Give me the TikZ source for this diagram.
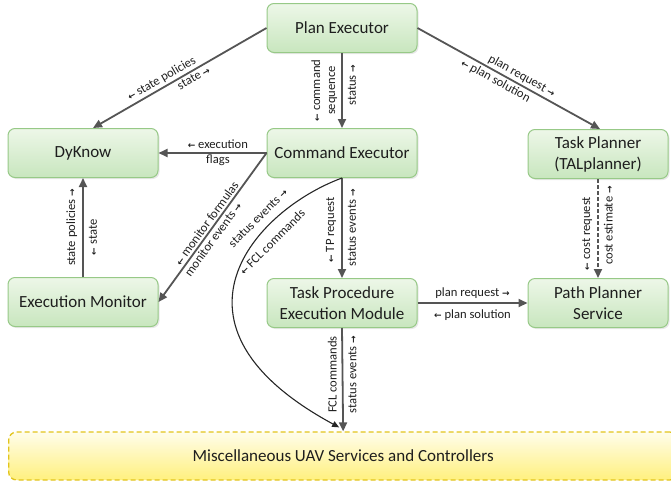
\documentclass[tikz,border=0pt]{standalone}
\usepackage{fontspec}
\setmainfont{Carlito}
\newfontfamily\arrowfont{DejaVu Sans Bold}
\usetikzlibrary{arrows.meta,shadows}

\definecolor{boxtop}{HTML}{EDF7E8}
\definecolor{boxbot}{HTML}{C8E6BE}
\definecolor{boxline}{HTML}{97C987}
\definecolor{conncol}{HTML}{555555}
\definecolor{misctop}{HTML}{FFFDEB}
\definecolor{miscbot}{HTML}{FFF07E}
\definecolor{miscline}{HTML}{E2C41C}
\definecolor{txt}{HTML}{1E1E1E}

\newcommand\boxfont{\fontsize{17}{21}\selectfont}
\newcommand\lblfont{\fontsize{12.6}{15}\selectfont}
\newcommand\toR{{\arrowfont\fontsize{9}{9}\selectfont →}}
\newcommand\toL{{\arrowfont\fontsize{9}{9}\selectfont ←}}

\begin{document}
\begin{tikzpicture}[x=1pt,y=-1pt,
  box/.style={draw=boxline, line width=1pt, rounded corners=7pt,
    top color=boxtop, bottom color=boxbot, text=txt,
    minimum width=150pt, minimum height=49pt, align=center, font=\boxfont,
    drop shadow={opacity=0.18, shadow xshift=1.5pt, shadow yshift=-1.5pt}},
  narrowbox/.style={box, minimum width=140pt},
  miscbox/.style={draw=miscline, line width=1.3pt, dash pattern=on 5pt off 3pt,
    rounded corners=8pt, top color=misctop, bottom color=miscbot, text=txt,
    minimum width=669pt, minimum height=48pt, font=\boxfont},
  conn/.style={draw=conncol, line width=1.8pt,
    -{Triangle[length=9pt,width=8pt]}},
  thin/.style={draw=black!85, line width=1.1pt,
    -{Triangle[length=7pt,width=6pt]}},
  lbl/.style={font=\lblfont, text=txt, inner sep=2pt},
  vlbl/.style={lbl, rotate=90, align=center}]

\useasboundingbox (0,0) rectangle (671,482);

% components
\node[box] (pe) at (342,28) {Plan Executor};
\node[box] (dy) at (83,153) {DyKnow};
\node[box] (ce) at (342,153) {Command Executor};
\node[narrowbox] (tp) at (598,154) {Task Planner\\(TALplanner)};
\node[box] (em) at (83,302) {Execution Monitor};
\node[box] (tpem) at (342,303) {Task Procedure\\Execution Module};
\node[narrowbox] (pp) at (598,303) {Path Planner\\Service};
\node[miscbox, anchor=west] (misc) at (8,456) {Miscellaneous UAV Services and Controllers};

% plan executor links
\draw[conn] (pe.west) -- ([xshift=10pt]dy.north)
  node[lbl, sloped, above, pos=0.58] {\toL\ state policies}
  node[lbl, sloped, below, pos=0.44] {state \toR};
\draw[conn] (pe.east) -- ([xshift=2pt]tp.north)
  node[lbl, sloped, above, pos=0.55] {plan request \toR}
  node[lbl, sloped, below, pos=0.45] {\toL\ plan solution};
\draw[conn] (pe.south) -- (ce.north)
  node[vlbl, pos=0.5, anchor=south, inner sep=4pt] {\toL\ command\\sequence}
  node[vlbl, pos=0.43, anchor=north, inner sep=5pt] {status \toR};

% command executor links
\draw[conn] (ce.west) -- (dy.east)
  node[lbl, pos=0.45, align=center] {\toL\ execution\\flags};
\draw[conn] (ce.west) -- (em.east)
  node[lbl, sloped, above, pos=0.5] {\toL\ monitor formulas}
  node[lbl, sloped, below, pos=0.55] {monitor events \toR};
\draw[conn] (ce.south) -- (tpem.north)
  node[vlbl, pos=0.52, anchor=south, inner sep=5pt] {\toL\ TP request}
  node[vlbl, pos=0.5, anchor=north, inner sep=5pt] {status events \toR};
\draw[thin] (ce.south) .. controls (255,210) and (150,325) .. ([xshift=-4pt,yshift=4pt]misc.north);
\node[lbl, rotate=45] (curvetop) at (258,218) {status events \toR};
\node[lbl, rotate=45] (curvebot) at (272,242) {\toL\ FCL commands};

% monitor and planners
\draw[conn] (em.north) -- (dy.south)
  node[vlbl, pos=0.5, anchor=south, inner sep=5pt] {state policies \toR}
  node[vlbl, pos=0.4, anchor=north, inner sep=5pt] {\toL\ state};
\draw[conn, dash pattern=on 4pt off 2pt] (tp.south) -- (pp.north)
  node[vlbl, pos=0.55, anchor=south, inner sep=5pt] {\toL\ cost request}
  node[vlbl, pos=0.47, anchor=north, inner sep=5pt] {cost estimate \toR};
\draw[conn] (tpem.east) -- (pp.west)
  node[lbl, above, pos=0.5, inner sep=4pt] {plan request \toR}
  node[lbl, below, pos=0.5, inner sep=6pt] {\toL\ plan solution};
\draw[conn] (tpem.south) -- (misc.north)
  node[vlbl, pos=0.45, anchor=south, inner sep=5pt] {FCL commands}
  node[vlbl, pos=0.45, anchor=north, inner sep=5pt] {status events \toR};

\end{tikzpicture}
\end{document}
